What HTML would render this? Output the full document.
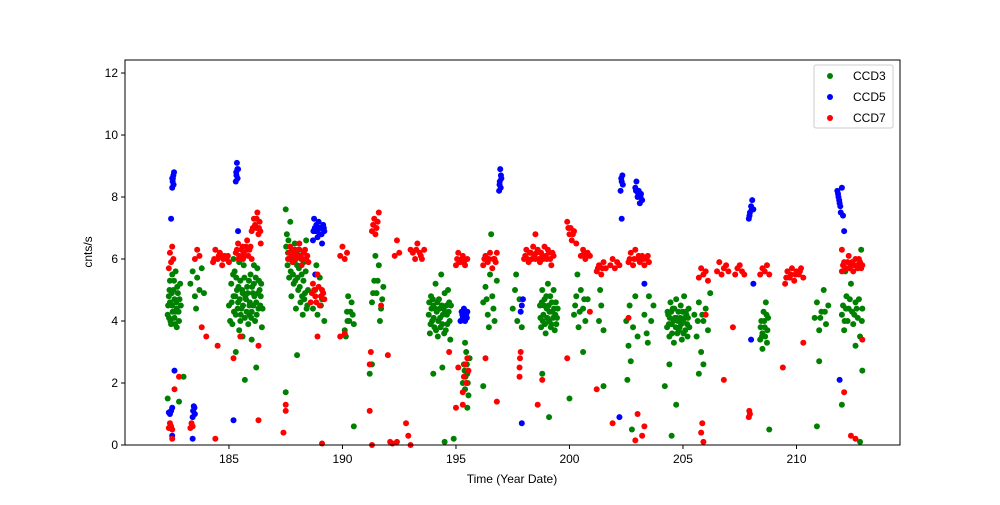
<!DOCTYPE html>
<html><head><meta charset="utf-8"><style>
body{margin:0;background:#fff;}
svg text{font-family:"Liberation Sans","DejaVu Sans",sans-serif;font-size:12px;fill:#000;}
</style></head><body>
<svg id="chart" width="1000" height="500">
<rect width="1000" height="500" fill="#fff"/>
<g id="marks"></g>
<rect x="125" y="60" width="775" height="385" fill="none" stroke="#000" stroke-width="1"/>
<g id="axes"></g>
<text x="512" y="483" text-anchor="middle">Time (Year Date)</text>
<text transform="translate(92,252) rotate(-90)" text-anchor="middle">cnts/s</text>
<g>
<rect x="814" y="65" width="79" height="63" rx="2" fill="#fff" fill-opacity="0.8" stroke="#ccc"/>
<circle cx="830" cy="76" r="3" fill="green"/>
<text x="853" y="80">CCD3</text>
<circle cx="830" cy="97" r="3" fill="blue"/>
<text x="853" y="101">CCD5</text>
<circle cx="830" cy="118" r="3" fill="red"/>
<text x="853" y="122">CCD7</text>
</g>
</svg>
<script>
const xTicks=[185,190,195,200,205,210];
const yTicks=[0,2,4,6,8,10,12];
const ccd3=[[182.3,4.2],[182.35,4.8],[182.4,5.3],[182.45,3.9],[182.5,4.5],[182.55,5.0],[182.6,4.1],[182.65,5.6],[182.7,4.4],[182.75,4.9],[182.8,4.0],[182.85,5.2],[182.4,4.6],[182.6,4.7],[182.7,3.8],[182.5,5.5],[182.3,1.5],[182.8,1.4],[183.0,2.2],
[183.3,5.2],[183.4,5.6],[183.5,4.8],[183.6,5.4],[183.7,5.0],[183.8,5.7],[183.9,4.9],[183.55,4.4],
[185.0,4.5],[185.1,5.2],[185.15,3.9],[185.2,4.8],[185.25,5.6],[185.3,4.2],[185.35,5.0],[185.4,4.6],[185.45,3.7],[185.5,5.3],[185.55,4.4],[185.6,4.9],[185.65,5.8],[185.7,4.1],[185.75,4.7],[185.8,5.1],[185.85,3.9],[185.9,4.5],[185.95,5.5],[186.0,4.3],[186.05,4.9],[186.1,5.2],[186.15,4.0],[186.2,4.6],[186.25,5.7],[186.3,4.4],[186.35,5.0],[186.4,4.8],[186.45,3.8],[185.3,3.0],[185.7,2.1],[186.2,2.5],[185.6,3.5],[186.0,3.4],[185.2,6.0],[185.5,4.0],[185.9,4.2],
[187.5,7.6],[187.55,6.8],[187.6,6.2],[187.65,5.4],[187.7,7.2],[187.75,4.8],[187.8,6.0],[187.85,5.2],[187.9,6.5],[187.95,4.4],[188.0,5.8],[188.05,5.0],[188.1,6.3],[188.15,4.6],[188.2,5.5],[188.25,4.2],[188.3,5.9],[188.35,4.9],[188.4,6.6],[188.45,4.5],[187.5,1.7],[188.0,2.9],
[188.7,4.4],[188.8,5.0],[188.9,4.2],[189.0,5.4],[189.1,4.7],[189.2,4.0],[188.85,5.8],[189.05,4.5],
[190.1,3.7],[190.2,4.3],[190.3,4.0],[190.4,4.6],[190.5,3.9],[190.25,4.8],[190.45,4.2],[190.15,3.5],[190.5,0.6],
[191.3,4.6],[191.4,5.3],[191.5,4.9],[191.6,5.8],[191.7,4.4],[191.8,5.1],[191.45,6.1],[191.65,4.0],[191.2,2.3],[191.3,2.6],
[193.8,4.2],[193.85,3.6],[193.9,4.8],[193.95,4.0],[194.0,4.5],[194.05,3.8],[194.1,5.2],[194.15,4.3],[194.2,3.5],[194.25,4.7],[194.3,4.1],[194.35,5.5],[194.4,3.9],[194.45,4.4],[194.5,4.9],[194.55,3.7],[194.6,4.2],[194.65,5.0],[194.7,4.6],[194.75,3.4],[194.0,2.3],[194.4,2.5],[194.5,0.1],
[195.3,2.0],[195.35,2.6],[195.4,1.8],[195.45,3.0],[195.5,2.3],[195.55,1.6],[195.6,2.8],[195.4,3.3],[195.5,1.2],[194.9,0.2],
[196.2,4.6],[196.3,5.1],[196.4,4.2],[196.5,5.5],[196.6,4.8],[196.7,4.0],[196.8,5.3],[196.45,3.8],[196.55,6.8],[196.2,1.9],
[197.5,4.4],[197.6,5.0],[197.7,4.0],[197.8,4.7],[197.9,3.8],[197.65,5.5],
[198.7,4.5],[198.75,3.8],[198.8,5.0],[198.85,4.2],[198.9,4.7],[198.95,3.6],[199.0,4.4],[199.05,5.2],[199.1,4.0],[199.15,4.8],[199.2,3.9],[199.25,4.3],[199.3,5.0],[199.35,3.7],[199.4,4.6],[199.45,4.1],[198.8,2.3],[199.1,0.9],
[200.2,4.2],[200.3,4.8],[200.4,3.8],[200.5,5.0],[200.6,4.4],[200.7,4.0],[200.8,4.7],[200.35,5.5],[200.0,1.5],[200.6,3.0],
[201.3,4.0],[201.4,4.5],[201.5,3.7],[201.35,5.0],[201.5,1.9],
[202.5,4.0],[202.6,3.2],[202.65,4.5],[202.7,2.7],[202.8,3.8],[202.9,4.8],[203.0,3.5],[202.55,2.1],[202.75,0.5],
[203.3,4.2],[203.4,3.6],[203.5,4.8],[203.6,4.0],[203.7,4.5],[203.45,3.3],
[204.3,3.8],[204.35,4.2],[204.4,3.5],[204.45,4.6],[204.5,3.9],[204.55,4.4],[204.6,3.3],[204.65,4.1],[204.7,4.7],[204.75,3.6],[204.8,4.3],[204.85,3.8],[204.9,4.5],[204.95,3.4],[205.0,4.0],[205.05,4.8],[205.1,3.7],[205.15,4.2],[205.2,3.5],[205.25,4.4],[204.2,1.9],[204.4,2.6],[204.7,1.3],[204.5,0.3],
[205.5,4.2],[205.6,3.5],[205.7,4.6],[205.8,3.0],[205.9,4.0],[206.0,4.4],[206.1,3.7],[206.2,4.9],[205.7,2.3],[205.9,2.6],
[208.4,3.4],[208.45,4.0],[208.5,3.6],[208.55,4.3],[208.6,3.8],[208.65,4.6],[208.7,3.3],[208.75,4.1],[208.5,3.1],[208.8,0.5],
[210.8,4.1],[210.9,4.6],[211.0,3.7],[211.1,4.3],[211.2,5.0],[211.3,3.9],[211.4,4.5],[211.0,2.7],[210.9,0.6],
[212.0,4.2],[212.1,3.7],[212.2,4.8],[212.3,4.4],[212.4,5.2],[212.5,3.9],[212.6,4.6],[212.7,4.1],[212.8,3.5],[212.9,4.4],[212.15,5.6],[212.85,6.3],[212.0,1.3],[212.6,3.2],[212.9,2.4],[212.8,0.1]];
const ccd3Extra=[[182.32,4.5],[182.38,5.0],[182.42,4.0],[182.48,4.9],[182.52,4.3],[182.58,5.3],[182.62,3.9],[182.68,4.6],[182.72,5.1],[182.78,4.3],[182.82,4.7],[182.88,4.5],[182.36,4.1],[182.64,4.3],
[185.05,4.0],[185.12,4.6],[185.18,5.5],[185.22,4.3],[185.28,4.8],[185.32,5.4],[185.38,4.4],[185.42,5.1],[185.48,4.7],[185.52,4.2],[185.58,5.0],[185.62,4.5],[185.68,5.4],[185.72,4.8],[185.78,4.3],[185.82,4.9],[185.88,5.3],[185.92,4.6],[185.98,4.1],[186.02,5.1],[186.08,4.5],[186.12,4.8],[186.18,5.4],[186.22,4.2],[186.28,4.9],[186.32,5.3],[186.38,4.5],[186.42,5.2],[186.48,4.4],[185.45,5.9],[186.1,5.8],
[187.52,6.4],[187.58,5.8],[187.62,6.6],[187.68,6.0],[187.72,5.6],[187.78,6.3],[187.82,5.5],[187.88,5.9],[187.92,5.3],[187.98,6.2],[188.02,5.4],[188.08,5.7],[188.12,5.1],[188.18,6.0],[188.22,4.8],[188.28,5.3],[188.32,4.7],[188.38,5.6],[188.42,4.4],[188.48,5.0],
[193.82,4.6],[193.88,3.9],[193.92,4.4],[193.98,4.7],[194.02,4.1],[194.08,4.4],[194.12,3.7],[194.18,4.6],[194.22,4.0],[194.28,4.4],[194.32,3.8],[194.38,4.5],[194.42,4.2],[194.48,3.6],[194.52,4.3],[194.58,4.5],[194.62,3.9],[194.68,4.3],[194.72,4.0],[194.78,4.5],
[198.72,4.1],[198.78,4.6],[198.82,4.0],[198.88,4.5],[198.92,3.9],[198.98,4.8],[199.02,4.1],[199.08,4.5],[199.12,4.3],[199.18,3.8],[199.22,4.6],[199.28,4.1],[199.32,4.4],[199.38,4.2],[199.42,3.9],[199.48,4.4],
[204.32,4.3],[204.38,3.9],[204.42,4.1],[204.48,4.3],[204.52,3.6],[204.58,4.0],[204.62,4.4],[204.68,3.8],[204.72,4.1],[204.78,4.0],[204.82,3.7],[204.88,4.1],[204.92,3.9],[204.98,4.3],[205.02,3.6],[205.08,4.1],[205.12,4.3],[205.18,3.9],[205.22,4.1],[205.28,3.8],
[212.05,4.5],[212.12,4.0],[212.18,4.4],[212.25,4.0],[212.35,4.7],[212.45,4.3],[212.55,4.2],[212.65,4.4],[212.75,4.7],[212.88,4.0],
[208.42,3.8],[208.48,3.5],[208.58,4.0],[208.62,3.5],[208.68,4.2],[208.72,3.7],[191.35,4.9],[191.55,5.3],[191.75,4.7],[190.22,4.0],[190.35,4.3],[200.25,4.5],[200.45,4.3],[200.65,4.7],[196.35,4.7],[196.65,4.4],[195.42,2.2],[195.48,2.6],[195.38,2.4],[195.52,2.0],[205.65,4.0],[205.85,4.2],[211.05,4.1],[211.25,4.3]];
const ccd5=[[182.5,8.3],[182.52,8.5],[182.55,8.7],[182.58,8.8],[182.5,8.6],[182.45,7.3],[182.6,2.4],[182.4,1.0],[182.45,1.1],[182.5,1.2],[182.35,1.05],[182.5,0.3],
[183.4,0.9],[183.42,1.1],[183.45,1.25],[183.5,1.0],[183.48,1.2],[183.4,0.2],
[185.3,8.5],[185.32,8.8],[185.35,9.1],[185.38,8.6],[185.4,8.9],[185.4,6.9],[185.2,0.8],
[188.7,6.6],[188.75,7.3],[188.8,6.9],[188.85,7.1],[188.9,6.7],[188.95,7.2],[189.0,6.8],[189.05,7.0],[189.1,6.5],[189.15,7.1],[189.2,6.9],[188.8,5.5],
[195.2,4.0],[195.25,4.3],[195.3,4.1],[195.35,4.4],[195.4,4.0],[195.45,4.2],[195.5,4.3],
[196.9,8.2],[196.93,8.5],[196.95,8.9],[197.0,8.6],[196.97,8.3],
[197.85,4.3],[197.9,4.5],[197.95,4.7],[197.9,0.7],
[202.25,8.2],[202.3,8.5],[202.33,8.7],[202.35,8.4],[202.3,7.3],[202.2,0.9],
[202.9,8.3],[202.95,8.5],[203.0,8.0],[203.05,8.2],[203.1,7.8],[203.15,8.1],[203.2,7.9],[203.3,5.2],
[207.9,7.3],[207.95,7.5],[208.0,7.7],[208.05,7.9],[208.1,7.6],[208.0,3.4],[208.1,5.2],
[211.8,8.2],[211.85,8.0],[211.9,7.8],[211.95,7.5],[212.0,8.3],[212.05,7.4],[212.1,6.9],[211.9,2.1]];
const ccd5Extra=[[182.53,8.6],[182.56,8.4],[185.33,8.7],[185.37,8.9],[188.72,6.9],[188.78,7.0],[188.88,6.9],[188.98,7.0],[189.08,6.8],[189.18,7.0],[195.28,4.2],[195.38,4.2],[195.48,4.1],[196.92,8.4],[196.98,8.7],[202.28,8.6],[202.93,8.2],[203.03,8.1],[203.13,8.0],[207.93,7.4],[208.03,7.6],[211.83,8.1],[211.88,7.9],[211.93,7.7]];
const ccd7=[[182.35,5.7],[182.4,6.2],[182.45,5.9],[182.5,6.4],[182.55,6.0],[182.35,0.55],[182.4,0.7],[182.45,0.6],[182.5,0.5],[182.6,1.8],[182.8,2.2],[182.5,0.2],
[183.3,0.55],[183.35,0.7],[183.4,0.6],[183.5,6.0],[183.6,6.3],[183.7,6.1],[183.8,3.8],[184.0,3.5],
[184.3,5.9],[184.4,6.3],[184.5,6.0],[184.6,6.2],[184.7,5.8],[184.8,6.1],[184.9,6.0],[185.0,5.9],[184.5,3.2],[184.4,0.2],
[185.3,6.2],[185.4,6.5],[185.5,6.0],[185.6,6.4],[185.7,6.1],[185.8,6.6],[185.9,6.3],[186.0,6.0],[185.2,2.8],[185.5,3.5],
[186.0,6.9],[186.1,7.3],[186.2,7.0],[186.25,7.5],[186.3,6.8],[186.35,7.2],[186.4,6.5],[186.3,3.2],[186.3,0.8],
[187.6,6.0],[187.7,6.4],[187.8,5.9],[187.9,6.3],[188.0,6.1],[188.1,6.5],[188.2,5.8],[188.3,6.2],[188.4,6.0],[188.5,5.9],[187.5,1.1],[187.5,1.3],[187.4,0.4],
[188.6,4.6],[188.7,5.2],[188.8,4.8],[188.9,5.5],[189.0,4.5],[189.1,5.0],[189.2,4.7],[188.9,3.5],[189.1,0.05],
[189.9,6.1],[190.0,6.4],[190.1,6.0],[190.2,6.2],[189.9,3.5],[190.1,3.6],
[191.3,6.9],[191.4,7.3],[191.5,7.0],[191.6,7.5],[191.45,6.8],[191.2,2.6],[191.25,3.0],[191.2,1.1],[191.3,0.0],[191.7,4.5],
[192.3,6.1],[192.4,6.6],[192.5,6.2],[192.0,2.9],[192.1,0.1],[192.2,0.05],[192.4,0.1],
[193.0,6.3],[193.2,6.0],[193.3,6.5],[193.4,6.2],[193.5,6.0],[193.6,6.3],[192.8,0.7],[192.9,0.3],[193.0,0.0],
[195.0,5.8],[195.1,6.2],[195.2,5.9],[195.3,6.1],[195.4,5.8],[195.5,6.0],[195.3,1.7],[195.35,2.2],[195.4,2.6],[195.45,2.0],[195.5,2.8],[195.55,2.4],[195.0,1.2],[195.1,2.5],[195.3,1.3],[194.7,3.0],
[196.2,5.8],[196.3,6.1],[196.4,5.9],[196.5,6.2],[196.6,5.7],[196.7,6.0],[196.8,6.2],[196.3,2.8],[196.8,1.4],
[197.8,2.5],[197.82,2.8],[197.85,3.0],[197.8,2.2],
[198.0,6.0],[198.1,6.3],[198.2,5.9],[198.3,6.2],[198.4,6.4],[198.5,6.0],[198.6,6.3],[198.7,5.9],[198.8,6.1],[198.9,6.4],[199.0,6.0],[199.1,6.2],[199.2,5.8],[199.3,6.1],[198.5,6.8],[198.8,2.1],[198.6,1.3],
[199.9,7.2],[200.0,6.8],[200.05,7.0],[200.1,6.6],[200.2,6.9],[200.3,6.5],[199.9,2.8],
[200.5,6.1],[200.6,6.3],[200.7,6.0],[200.8,6.2],[200.9,6.1],[200.9,4.3],
[201.2,5.6],[201.3,5.8],[201.4,5.5],[201.5,5.9],[201.6,5.7],[201.2,1.8],
[201.8,5.8],[201.9,6.0],[202.0,5.7],[202.1,5.9],[202.2,5.8],[201.9,0.7],
[202.6,5.9],[202.7,6.2],[202.8,5.8],[202.9,6.3],[203.0,6.0],[203.1,5.9],[203.2,6.1],[203.3,5.8],[203.4,6.0],[203.5,5.9],[202.6,4.1],[203.3,0.6],[203.2,0.3],[203.0,1.0],[202.9,0.15],
[205.7,5.4],[205.8,5.7],[205.9,5.5],[206.0,5.6],[206.1,5.3],[205.8,0.4],[205.85,0.7],[205.9,0.1],[206.0,4.2],
[206.5,5.6],[206.6,5.9],[206.7,5.5],[206.8,5.7],[206.9,5.8],[207.0,5.6],[206.8,2.1],[207.2,3.8],
[207.3,5.5],[207.4,5.7],[207.5,5.8],[207.6,5.6],[207.7,5.5],[207.9,0.9],[207.92,1.1],[207.95,1.0],
[208.4,5.5],[208.5,5.7],[208.6,5.6],[208.7,5.8],[208.8,5.5],
[209.5,5.2],[209.6,5.6],[209.7,5.4],[209.8,5.7],[209.9,5.3],[210.0,5.6],[210.1,5.5],[210.2,5.7],[210.3,5.4],[209.4,2.5],[210.3,3.3],
[212.0,5.6],[212.1,5.9],[212.2,5.7],[212.3,6.1],[212.4,5.8],[212.5,5.6],[212.6,6.0],[212.7,5.7],[212.8,5.9],[212.9,5.8],[212.1,1.7],[212.4,0.3],[212.6,0.2],[212.9,3.4],[212.0,6.3]];
const ccd7Extra=[[185.35,6.3],[185.45,6.1],[185.55,6.3],[185.65,6.2],[185.75,6.4],[185.85,6.1],[185.95,6.4],[185.42,6.0],[185.62,6.0],[185.82,6.3],
[186.05,7.0],[186.15,7.1],[186.22,7.3],[186.32,7.0],[186.38,6.9],
[187.65,6.2],[187.75,6.1],[187.85,6.2],[187.95,6.0],[188.05,6.3],[188.15,6.1],[188.25,6.0],[188.35,6.3],[188.45,6.1],
[188.65,4.9],[188.75,5.0],[188.85,4.6],[188.95,5.1],[189.05,4.8],[189.15,4.9],
[198.05,6.1],[198.15,6.0],[198.25,6.2],[198.35,6.0],[198.45,6.1],[198.55,6.2],[198.65,6.0],[198.75,6.2],[198.85,6.0],[198.95,6.1],[199.05,6.3],[199.15,6.0],[199.25,6.2],
[212.05,5.8],[212.15,5.7],[212.25,5.9],[212.35,5.7],[212.45,5.9],[212.55,5.8],[212.65,5.8],[212.75,6.0],[212.85,5.7],
[184.35,6.0],[184.55,6.1],[184.75,6.0],[184.95,6.1],[193.1,6.2],[193.25,6.3],[193.45,6.1],[195.05,6.0],[195.15,5.9],[195.25,6.0],[195.35,5.9],[196.25,6.0],[196.45,6.0],[196.65,6.0],[196.75,5.9],[200.65,6.2],[200.75,6.1],[201.25,5.7],[201.45,5.7],[202.65,6.0],[202.85,6.0],[203.05,6.1],[203.25,6.0],[203.45,6.1],[209.55,5.4],[209.75,5.5],[209.95,5.5],[210.15,5.6],[191.35,7.1],[191.55,7.2],[199.95,7.0],[200.15,6.8]];

const NS="http://www.w3.org/2000/svg";
const X0=180.42,X1=214.56,Y0=0,Y1=12.42,PL=125,PR=900,PT=60,PB=445;
function sx(v){return PL+(v-X0)/(X1-X0)*(PR-PL);}
function sy(v){return PB-(v-Y0)/(Y1-Y0)*(PB-PT);}
const marks=document.getElementById('marks');
function draw(arr,color,name){
  const g=document.createElementNS(NS,'g');
  
  
  arr.forEach(p=>{
    const c=document.createElementNS(NS,'circle');
    c.setAttribute('cx',sx(p[0]));c.setAttribute('cy',sy(p[1]));c.setAttribute('r',3);c.setAttribute('fill',color);
    
    
    g.appendChild(c);
  });
  marks.appendChild(g);
}
draw(ccd3.concat(ccd3Extra),'green','series-ccd3');
draw(ccd5.concat(ccd5Extra),'blue','series-ccd5');
draw(ccd7.concat(ccd7Extra),'red','series-ccd7');
const axes=document.getElementById('axes');
xTicks.forEach(t=>{
  const x=sx(t);
  const l=document.createElementNS(NS,'line');
  l.setAttribute('x1',x);l.setAttribute('x2',x);l.setAttribute('y1',PB);l.setAttribute('y2',PB+4);l.setAttribute('stroke','#000');
  
  
  axes.appendChild(l);
  const tx=document.createElementNS(NS,'text');
  tx.setAttribute('x',x);tx.setAttribute('y',PB+18);tx.setAttribute('text-anchor','middle');tx.textContent=t;
  
  
  axes.appendChild(tx);
});
yTicks.forEach(t=>{
  const y=sy(t);
  const l=document.createElementNS(NS,'line');
  l.setAttribute('x1',PL-4);l.setAttribute('x2',PL);l.setAttribute('y1',y);l.setAttribute('y2',y);l.setAttribute('stroke','#000');
  
  
  axes.appendChild(l);
  const tx=document.createElementNS(NS,'text');
  tx.setAttribute('x',PL-7);tx.setAttribute('y',y+4);tx.setAttribute('text-anchor','end');tx.textContent=t;
  
  
  axes.appendChild(tx);
});
</script>
</body></html>
